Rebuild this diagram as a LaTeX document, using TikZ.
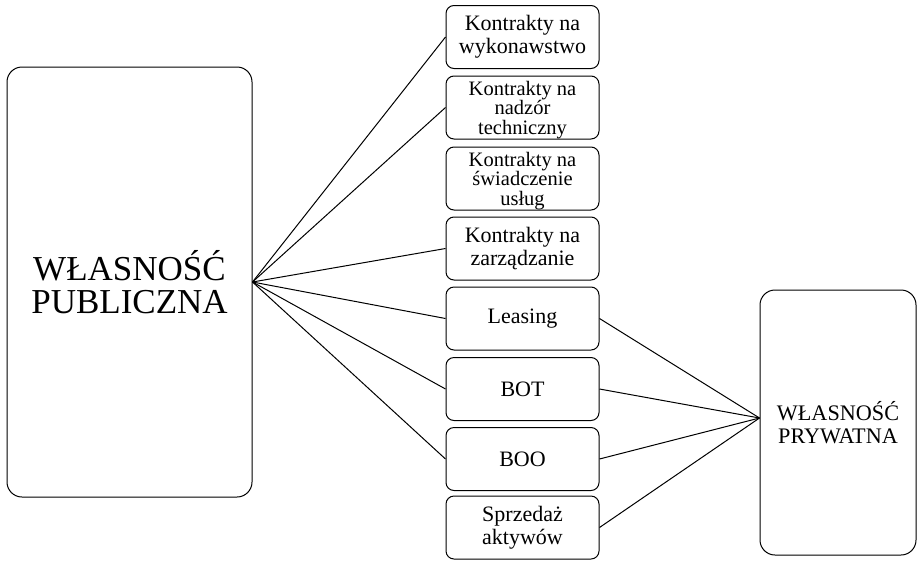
\documentclass[tikz,border=0pt]{standalone}
\usepackage{fontspec}
\setmainfont{Liberation Serif}
\begin{document}
\begin{tikzpicture}[x=1pt,y=-1pt,
  bigbox/.style={draw=black,line width=1pt,rounded corners=15pt,fill=white,
    inner sep=0pt,align=center},
  midbox/.style={draw=black,line width=1pt,rounded corners=8pt,fill=white,
    inner sep=0pt,minimum width=153pt,minimum height=63pt,align=center,
    font=\fontsize{22}{23.3}\selectfont},
  tight/.style={font=\fontsize{20.5}{19.6}\selectfont,text depth=-1.5pt},
  link/.style={draw=black,line width=1pt}]
\useasboundingbox (0,0) rectangle (917,560);

% public ownership
\node[bigbox,minimum width=245pt,minimum height=430pt,
  font=\fontsize{35}{33.5}\selectfont] (pub) at (129.5,282)
  {WŁASNOŚĆ\\PUBLICZNA};

% private ownership
\node[bigbox,minimum width=156pt,minimum height=265pt,
  font=\fontsize{22.2}{23}\selectfont] (pry) at (838,422.5)
  {WŁASNOŚĆ\\PRYWATNA};
\coordinate (pryin) at ([yshift=4.5pt]pry.west);

% forms of cooperation
\node[midbox] (m1) at (522.5,37)    {Kontrakty na\\wykonawstwo};
\node[midbox,tight] (m2) at (522.5,107.5) {Kontrakty na\\nadzór\\techniczny};
\node[midbox,tight] (m3) at (522.5,178.5) {Kontrakty na\\świadczenie\\usług};
\node[midbox] (m4) at (522.5,248.5) {Kontrakty na\\zarządzanie};
\node[midbox] (m5) at (522.5,318.5) {Leasing};
\node[midbox] (m6) at (522.5,389)   {BOT};
\node[midbox] (m7) at (522.5,459)   {BOO};
\node[midbox] (m8) at (522.5,527.5) {Sprzedaż\\aktywów};

% links to public ownership
\foreach \m in {m1,m2,m4,m5,m6,m7}
  \draw[link] (pub.east) -- (\m.west);

% links to private ownership
\foreach \m in {m5,m6,m7,m8}
  \draw[link] (\m.east) -- (pryin);
\end{tikzpicture}
\end{document}
